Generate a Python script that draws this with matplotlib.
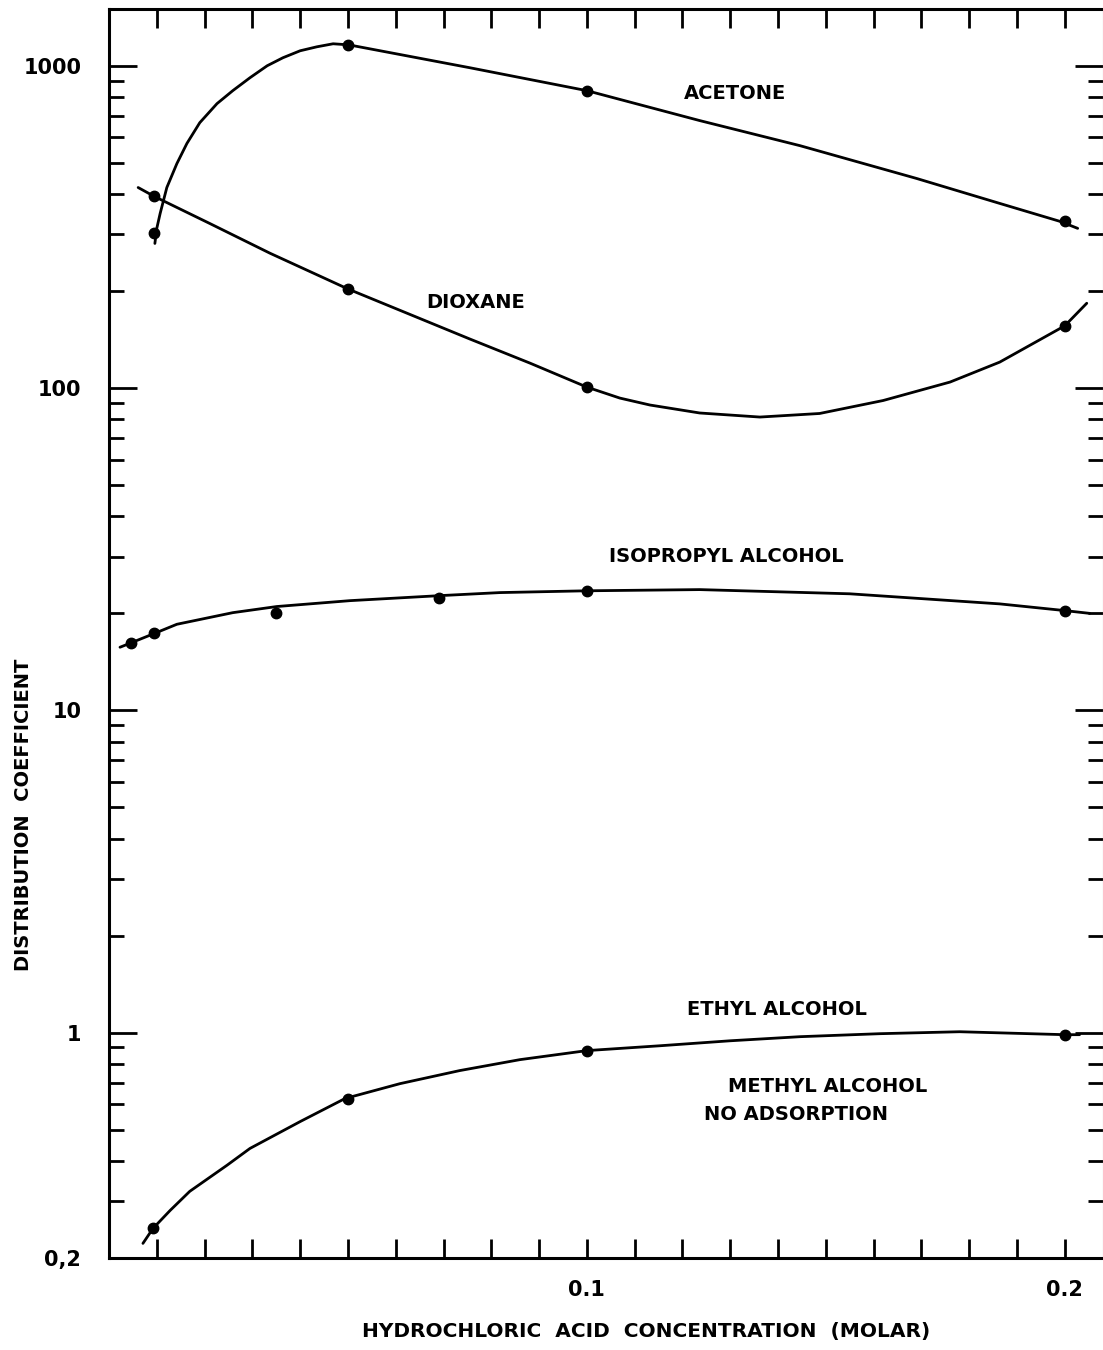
import matplotlib
matplotlib.use("Agg")
import matplotlib.pyplot as plt
from matplotlib.ticker import FixedLocator, FixedFormatter, NullFormatter

# ---------------- data ----------------
# measured points
acetone_x = [0.0095, 0.05, 0.10, 0.20]
acetone_y = [302, 1161, 837, 329]
dioxane_x = [0.0095, 0.05, 0.10, 0.20]
dioxane_y = [393, 203, 100.7, 156]
isopropyl_x = [0.0046, 0.0095, 0.035, 0.069, 0.10, 0.20]
isopropyl_y = [16.2, 17.4, 20.1, 22.4, 23.5, 20.4]
ethyl_x = [0.0092, 0.05, 0.10, 0.20]
ethyl_y = [0.247, 0.625, 0.88, 0.986]

# hand-drawn smooth curves
acetone_cx = [0.0096, 0.0100, 0.0107, 0.0121, 0.0142, 0.0163, 0.0190, 0.0226,
              0.0259, 0.0295, 0.0331, 0.0364, 0.0400, 0.0435, 0.0469, 0.0502,
              0.0755, 0.10, 0.1236, 0.1446, 0.169, 0.1864, 0.199, 0.2027]
acetone_cy = [281, 313, 348, 419, 497, 574, 666, 763,
              837, 918, 1000, 1059, 1113, 1145, 1170, 1161,
              986, 837, 676, 565, 447, 374, 329, 313]
dioxane_cx = [0.0061, 0.0095, 0.0211, 0.0337, 0.05, 0.0755, 0.0881, 0.10,
              0.1069, 0.1132, 0.1236, 0.1362, 0.1487, 0.162, 0.176, 0.1864,
              0.20, 0.2046]
dioxane_cy = [419, 393, 324, 262, 203, 142, 119.5, 100.7,
              93.1, 88.6, 83.7, 81.3, 83.4, 91.5, 104.4, 120.4,
              156, 183.3]
isopropyl_cx = [0.0023, 0.0046, 0.0098, 0.0142, 0.0259, 0.0351, 0.0504, 0.0692,
                0.0818, 0.10, 0.1236, 0.155, 0.1864, 0.20, 0.2052]
isopropyl_cy = [15.7, 16.2, 17.4, 18.5, 20.1, 21.0, 21.9, 22.7,
                23.2, 23.5, 23.7, 23.0, 21.4, 20.4, 20.0]
ethyl_cx = [0.0071, 0.0092, 0.0128, 0.0169, 0.0247, 0.0295, 0.040, 0.0494,
            0.0609, 0.0734, 0.086, 0.10, 0.1153, 0.130, 0.1446, 0.1613,
            0.178, 0.20, 0.2031]
ethyl_cy = [0.222, 0.247, 0.281, 0.322, 0.388, 0.4375, 0.530, 0.625,
            0.695, 0.763, 0.825, 0.88, 0.911, 0.944, 0.972, 0.993,
            1.007, 0.986, 0.986]

curve_labels = ["ACETONE", "DIOXANE", "ISOPROPYL ALCOHOL", "ETHYL ALCOHOL",
                "METHYL ALCOHOL", "NO ADSORPTION"]
label_x = [0.1311, 0.0768, 0.1291, 0.1398, 0.1504, 0.1437]
label_y = [820, 184.6, 30.0, 1.178, 0.680, 0.557]

y_major = [0.2, 1, 10, 100, 1000]
y_major_labels = ["0,2", "1", "10", "100", "1000"]
y_minor = [0.3, 0.4, 0.5, 0.6, 0.7, 0.8, 0.9,
           2, 3, 4, 5, 6, 7, 8, 9,
           20, 30, 40, 50, 60, 70, 80, 90,
           200, 300, 400, 500, 600, 700, 800, 900]
x_ticks = [round(0.01 * k, 2) for k in range(1, 21)]
x_tick_labels = ["0.1" if abs(t - 0.1) < 1e-9 else ("0.2" if abs(t - 0.2) < 1e-9 else "")
                 for t in x_ticks]

# ---------------- drawing ----------------
plt.rcParams['font.family'] = ['DejaVu Sans']
W, H = 1103, 1350
fig = plt.figure(figsize=(W / 100, H / 100), dpi=100)
ax = fig.add_axes([109 / W, 1 - 1258 / H, (1103 - 109) / W, (1258 - 9) / H])
ax.set_yscale('log')
ax.set_xlim(0, 0.208)
ax.set_ylim(0.2, 1500)

lw = 2.0
for cx, cy, px, py in [(acetone_cx, acetone_cy, acetone_x, acetone_y),
                       (dioxane_cx, dioxane_cy, dioxane_x, dioxane_y),
                       (isopropyl_cx, isopropyl_cy, isopropyl_x, isopropyl_y),
                       (ethyl_cx, ethyl_cy, ethyl_x, ethyl_y)]:
    ax.plot(cx, cy, color='black', lw=lw, solid_capstyle='round', solid_joinstyle='round')
    ax.plot(px, py, 'o', color='black', ms=7.5)

tfont = dict(fontsize=14, fontweight='bold', color='black')
for t, xx, yy in zip(curve_labels, label_x, label_y):
    ax.text(xx, yy, t, ha='center', va='center', **tfont)

ax.yaxis.set_major_locator(FixedLocator(y_major))
ax.yaxis.set_major_formatter(FixedFormatter(y_major_labels))
ax.yaxis.set_minor_locator(FixedLocator(y_minor))
ax.yaxis.set_minor_formatter(NullFormatter())
ax.xaxis.set_major_locator(FixedLocator(x_ticks))
ax.xaxis.set_major_formatter(FixedFormatter(x_tick_labels))
ax.xaxis.set_minor_locator(FixedLocator([]))

ax.tick_params(axis='both', which='both', direction='in', top=True, right=True,
               color='black', width=2.0)
ax.tick_params(axis='y', which='major', length=20, pad=20, labelsize=15)
ax.tick_params(axis='y', which='minor', length=11)
ax.tick_params(axis='x', which='major', length=14, pad=16, labelsize=15)
for lab in ax.get_xticklabels() + ax.get_yticklabels():
    lab.set_fontweight('bold')

for s in ax.spines.values():
    s.set_linewidth(2.2)
ax.spines['right'].set_linewidth(0.8)
ax.spines['right'].set_color('#aaaaaa')

fig.text(646 / W, 1 - 1332 / H, "HYDROCHLORIC  ACID  CONCENTRATION  (MOLAR)",
         ha='center', va='center', fontsize=14.5, fontweight='bold', color='black')
fig.text(24 / W, 1 - 815 / H, "DISTRIBUTION  COEFFICIENT", rotation=90,
         ha='center', va='center', **tfont)

fig.savefig("out.png", dpi=100, facecolor='white')
